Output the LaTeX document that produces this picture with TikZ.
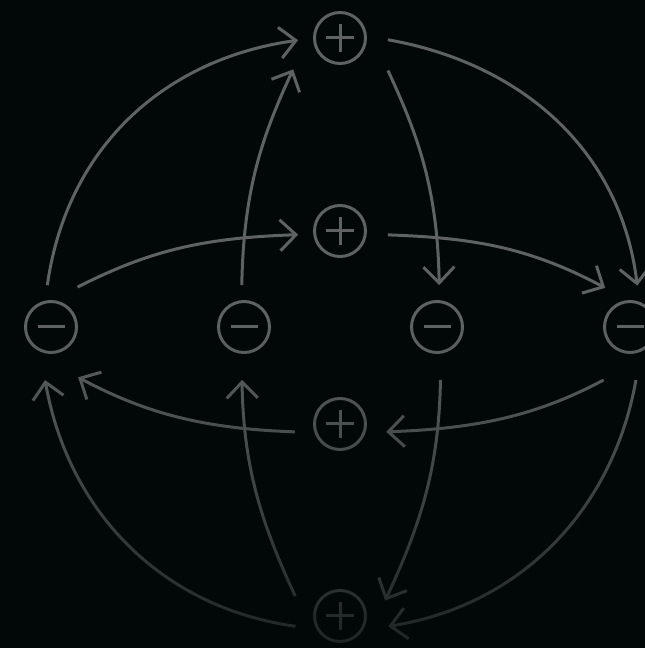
\documentclass[tikz,border=0pt]{standalone}
\usetikzlibrary{arrows.meta,fadings}
\definecolor{bgc}{RGB}{2,8,8}
\definecolor{linec}{RGB}{94,98,98}
\tikzfading[name=dimdown, top color=transparent!100, bottom color=transparent!31]

\begin{document}
\begin{tikzpicture}[x=1pt, y=1pt,
    charge/.style={circle, draw=linec, line width=3pt, minimum size=51pt, inner sep=0pt, outer sep=16.5pt},
    plusc/.style={charge, path picture={\draw[linec, line width=3pt] ([xshift=-14pt]path picture bounding box.center) -- ([xshift=14pt]path picture bounding box.center) ([yshift=-14pt]path picture bounding box.center) -- ([yshift=14pt]path picture bounding box.center);}},
    minusc/.style={charge, path picture={\draw[linec, line width=3pt] ([xshift=-13.5pt]path picture bounding box.center) -- ([xshift=13.5pt]path picture bounding box.center);}},
    flow/.style={draw=linec, line width=3pt, -{Straight Barb[length=16pt, width=31pt]}}
]
\fill[bgc] (0,0) rectangle (645,648);
\useasboundingbox (0,0) rectangle (645,648);

% column of plus charges
\node[plusc] (P1) at (340,610) {};
\node[plusc] (P2) at (340,417) {};
\node[plusc] (P3) at (340,224) {};
\node[plusc] (P4) at (340,32) {};
% row of minus charges
\node[minusc] (M1) at (51,321) {};
\node[minusc] (M2) at (244,321) {};
\node[minusc] (M3) at (437,321) {};
\node[minusc] (M4) at (630,321) {};

% upper half
\draw[flow] (M1.95) to[out=82, in=188] (P1.183);
\draw[flow, shorten >=18pt] (M2.93) to[out=89, in=245] (P1.201);
\draw[flow, shorten <=7pt] (M1.61) to[out=27, in=182] (P2.185);
\draw[flow, shorten <=6pt] (P1.-1) to[out=-10, in=97] (M4.80);
\draw[flow, shorten <=20pt] (P1.-20) to[out=-65, in=91] (M3.87);
\draw[flow, shorten <=6pt, shorten >=5pt] (P2.-5) to[out=-2, in=152] (M4.119);
% lower half
\draw[flow, shorten <=24pt, shorten >=5pt] (M4.263) to[out=208, in=2] (P3.-11);
\draw[flow, shorten <=4pt, shorten >=20pt] (P3.191) to[out=178, in=332] (M1.-77);
\draw[flow, shorten <=10pt, shorten >=11pt] (P4.165) to[out=115, in=271] (M2.267);
\draw[flow, shorten <=4pt, shorten >=12pt] (P4.195) to[out=172, in=280] (M1.259);
\draw[flow, shorten <=11pt, shorten >=9pt] (M3.275) to[out=269, in=65] (P4.10);
\draw[flow, shorten <=12pt, shorten >=8pt] (M4.281) to[out=260, in=9] (P4.-16);

% dim towards the bottom
\fill[bgc, path fading=dimdown] (0,0) rectangle (645,321);
\end{tikzpicture}
\end{document}
